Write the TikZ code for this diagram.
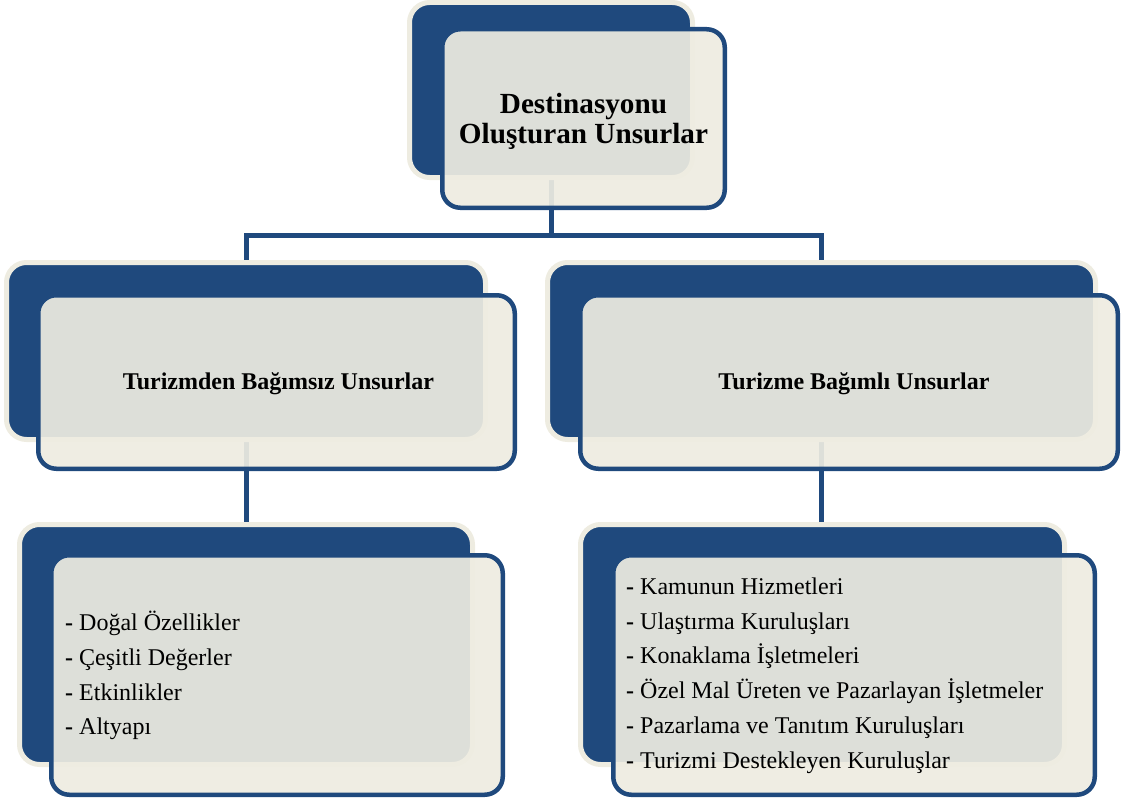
\documentclass[tikz,border=0pt]{standalone}
\usepackage{fontspec}
\setmainfont{Liberation Serif}
\definecolor{navy}{HTML}{1F497D}
\definecolor{cream}{HTML}{EEECE1}
\pgfdeclarelayer{bg}
\pgfsetlayers{bg,main}
\newcommand{\dash}{\textbf{-} }
\begin{document}
\begin{tikzpicture}[x=1pt,y=-1pt,
  backbox/.style={draw=cream, line width=5pt, fill=navy, rounded corners=20pt, inner sep=0pt, outer sep=0pt},
  frontbox/.style={draw=navy, line width=4.5pt, fill=cream, fill opacity=0.92, draw opacity=1, rounded corners=18pt, inner sep=0pt, outer sep=0pt},
  conn/.style={draw=navy, line width=5pt},
  title/.style={font=\fontsize{29.2}{30}\selectfont\bfseries, align=center, inner sep=0pt},
  label/.style={font=\fontsize{24}{28}\selectfont\bfseries, align=center, inner sep=0pt},
  items/.style={font=\fontsize{24}{34.8}\selectfont, align=left, anchor=west, inner sep=0pt}]
\useasboundingbox (0,0) rectangle (1136,800);

% back panels
\node[backbox, minimum width=283pt, minimum height=175pt] (tb) at (551,90) {};
\node[backbox, minimum width=479pt, minimum height=177pt] (lb) at (246,351) {};
\node[backbox, minimum width=548pt, minimum height=177pt] (rb) at (821.5,351) {};
\node[backbox, minimum width=453pt, minimum height=240pt] (lbb) at (246,644.5) {};
\node[backbox, minimum width=484pt, minimum height=240pt] (rbb) at (822.5,644.5) {};

% connectors, behind everything
\coordinate (jn) at (551,235);
\begin{pgfonlayer}{bg}
  \draw[conn] (tb.center) -- (jn);
  \draw[conn] (lb.center) |- (jn) -| (rb.center);
  \draw[conn] (lb.center) -- (lbb.center);
  \draw[conn] (rb.center) -- (rb.center |- rbb.center);
\end{pgfonlayer}

% front panels
\node[frontbox, minimum width=282.5pt, minimum height=178.5pt] (tf) at (583.5,118.5) {};
\node[frontbox, minimum width=476.5pt, minimum height=173.5pt] (lf) at (276.5,382) {};
\node[frontbox, minimum width=537.5pt, minimum height=173.5pt] (rf) at (849,382) {};
\node[frontbox, minimum width=451.5pt, minimum height=239.5pt] (lbf) at (277,675) {};
\node[frontbox, minimum width=481.5pt, minimum height=239.5pt] (rbf) at (854,675) {};

% texts
\node[title] (t1) at (583.5,121) {Destinasyonu\\Oluşturan Unsurlar};
\node[label] (t2) at (278.5,383.5) {Turizmden Bağımsız Unsurlar};
\node[label] (t3) at (854,383.5) {Turizme Bağımlı Unsurlar};
\node[items] (t4) at (65,675.5) {\dash Doğal Özellikler\\\dash Çeşitli Değerler\\\dash Etkinlikler\\\dash Altyapı};
\node[items] (t5) at (626,675.5) {\dash Kamunun Hizmetleri\\\dash Ulaştırma Kuruluşları\\\dash Konaklama İşletmeleri\\\dash Özel Mal Üreten ve Pazarlayan İşletmeler\\\dash Pazarlama ve Tanıtım Kuruluşları\\\dash Turizmi Destekleyen Kuruluşlar};
\end{tikzpicture}
\end{document}
